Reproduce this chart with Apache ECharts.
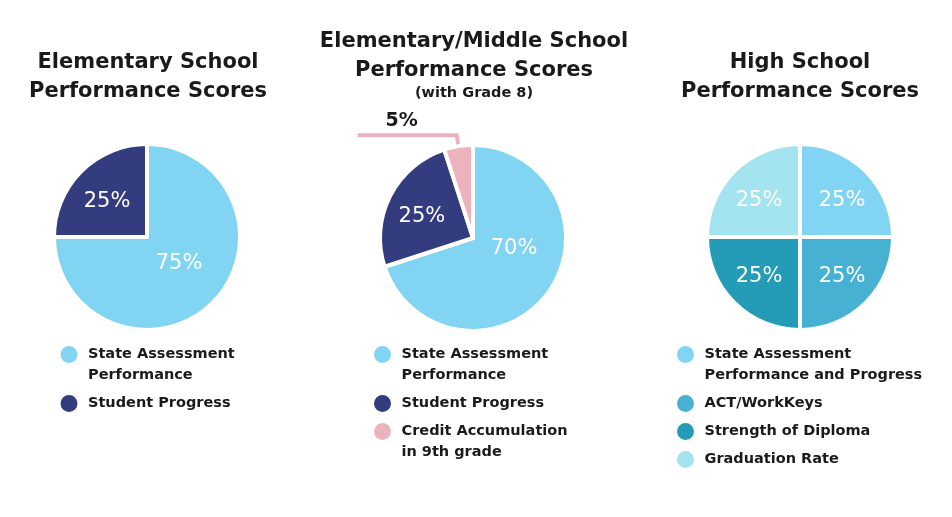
<!DOCTYPE html>
<html>
<head>
<meta charset="utf-8">
<script src="https://cdn.jsdelivr.net/npm/echarts@6/dist/echarts.min.js"></script>
<style>
html,body{margin:0;padding:0;background:#fff;}
#chart{width:952px;height:517px;}
</style>
</head>
<body>
<div id="chart"></div>
<script>
// ---- data ----
const titles = ['Elementary School\nPerformance Scores', 'Elementary/Middle School\nPerformance Scores', 'High School\nPerformance Scores'];
const subTitles = ['', '(with Grade 8)', ''];

const elemNames = ['State Assessment\nPerformance', 'Student Progress'];
const elemValues = [75, 25];

const emsNames = ['State Assessment\nPerformance', 'Student Progress', 'Credit Accumulation\nin 9th grade'];
const emsValues = [70, 25, 5];

const hsNames = ['State Assessment\nPerformance and Progress', 'ACT/WorkKeys', 'Strength of Diploma', 'Graduation Rate'];
const hsValues = [25, 25, 25, 25];

// ---- styling ----
const elemColors = ['#81d4f2', '#323c7e'];
const emsColors = ['#81d4f2', '#323c7e', '#ecb3be'];
const hsColors = ['#81d4f2', '#47b1d4', '#259cb7', '#a4e4f1'];

const centers = [[147, 237], [473, 238], [800, 237]];
const R = 93;
const labelShift = [
  [[-3, -8], [-5, 0]],
  [[1, -19], [-7, 1], null],
  [[7, -1], [7, 5], [-6, 5], [-6, -1]]
];

const FONT = 'DejaVu Sans';
const INK = '#1a1a1a';
const chart = echarts.init(document.getElementById('chart'), null, {renderer: 'canvas'});

function makeData(names, values, colors) {
  return names.map((n, i) => ({name: n, value: values[i], itemStyle: {color: colors[i]}}));
}

function pieSeries(idx, names, values, colors) {
  return {
    type: 'pie',
    center: centers[idx],
    radius: R,
    startAngle: 90,
    clockwise: true,
    avoidLabelOverlap: false,
    animation: false,
    silent: true,
    itemStyle: {borderColor: '#ffffff', borderWidth: 4},
    label: {
      show: true,
      position: 'inside',
      formatter: '{c}%',
      color: '#ffffff',
      fontFamily: FONT,
      fontSize: 21,
      fontWeight: 'normal'
    },
    labelLine: {show: false},
    labelLayout: function (p) {
      const s = labelShift[idx][p.dataIndex];
      return s ? {dx: s[0], dy: s[1]} : {};
    },
    data: makeData(names, values, colors)
  };
}

const s1 = pieSeries(0, elemNames, elemValues, elemColors);
const s2 = pieSeries(1, emsNames, emsValues, emsColors);
const s3 = pieSeries(2, hsNames, hsValues, hsColors);

// small slice: outside label with pink leader line
s2.data[2].label = {
  position: 'outside',
  formatter: '{v|{c}%}',
  distanceToLabelLine: -60,
  padding: [0, 0, 28, 0],
  rich: {v: {color: INK, fontFamily: FONT, fontWeight: 'bold', fontSize: 19, lineHeight: 22}}
};
s2.data[2].labelLine = {
  show: true,
  length: 11,
  length2: 99,
  lineStyle: {color: '#ecb3be', width: 4}
};

const legendRich = {t: {fontFamily: FONT, fontWeight: 'bold', fontSize: 14.5, lineHeight: 21, color: INK}};

function legendFor(names, left, top) {
  return {
    orient: 'vertical',
    left: left,
    top: top,
    padding: 0,
    itemWidth: 28,
    itemHeight: 19,
    itemGap: 7,
    icon: 'circle',
    selectedMode: false,
    formatter: function (name) {
      return name.split('\n').map(l => '{t|' + l + '}').join('\n');
    },
    textStyle: {fontFamily: FONT, fontWeight: 'bold', fontSize: 14.5, lineHeight: 21, color: INK, rich: legendRich},
    data: names.map((n, i) => {
      if (n.indexOf('\n') < 0) return {name: n, icon: 'circle'};
      // first line aligned with the marker
      const pad = i === 0 ? [21, 0, 0, 0] : [0, 0, -21, 0];
      return {name: n, icon: 'circle', textStyle: {padding: pad, rich: legendRich}};
    })
  };
}

const titleStyle = {fontFamily: FONT, fontWeight: 'bold', fontSize: 21, lineHeight: 29, color: INK};

chart.setOption({
  backgroundColor: '#ffffff',
  animation: false,
  title: [
    {text: titles[0], left: 148, top: 48, textAlign: 'center', padding: 0, textStyle: titleStyle},
    {text: titles[1], subtext: subTitles[1], left: 474, top: 27, textAlign: 'center', padding: 0, itemGap: 0,
     textStyle: titleStyle,
     subtextStyle: {fontFamily: FONT, fontWeight: 'bold', fontSize: 14.5, lineHeight: 16, color: INK}},
    {text: titles[2], left: 800, top: 48, textAlign: 'center', padding: 0, textStyle: titleStyle}
  ],
  legend: [
    legendFor(elemNames, 58.5, 323),
    legendFor(emsNames, 372, 323),
    legendFor(hsNames, 675, 323)
  ],
  series: [s1, s2, s3]
});
</script>
</body>
</html>
